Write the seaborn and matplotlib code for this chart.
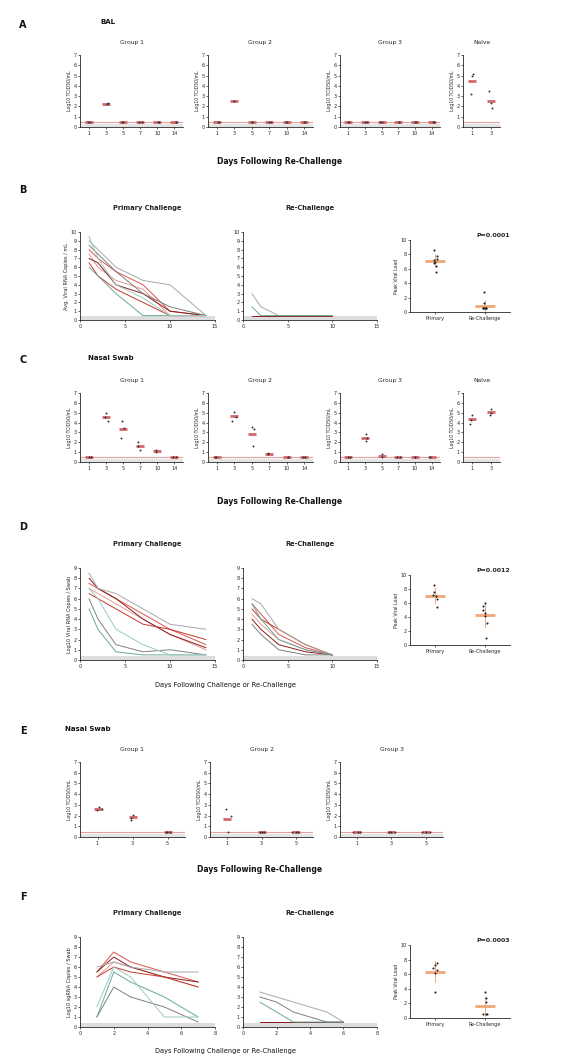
import numpy as np
import pandas as pd
import seaborn as sns
import matplotlib.pyplot as plt

sns.set_theme(style="ticks")
plt.rcParams['font.family'] = ['DejaVu Sans']
plt.rcParams['axes.linewidth'] = 0.6
plt.rcParams['xtick.major.width'] = 0.5
plt.rcParams['ytick.major.width'] = 0.5
plt.rcParams['xtick.major.size'] = 1.5
plt.rcParams['ytick.major.size'] = 1.5
plt.rcParams['xtick.major.pad'] = 1.5
plt.rcParams['ytick.major.pad'] = 1.0

# ---------------- data ----------------
LOD = 0.5
groups = ['Group 1', 'Group 2', 'Group 3']
days_cat = ['1', '3', '5', '7', '10', '14']
days_cat_e = ['1', '3', '5']
naive_cat = ['1', '3']

# A - BAL, re-challenge (day label -> values)
bal_g1 = {'1': [LOD, LOD], '3': [2.3, 2.2], '5': [LOD, LOD], '7': [LOD, LOD], '10': [LOD, LOD], '14': [LOD, LOD]}
bal_g2 = {'1': [LOD, LOD], '3': [2.5], '5': [LOD, LOD], '7': [LOD, LOD], '10': [LOD, LOD], '14': [LOD, LOD]}
bal_g3 = {'1': [LOD, LOD], '3': [LOD, LOD], '5': [LOD, LOD], '7': [LOD, LOD], '10': [LOD, LOD], '14': [LOD, LOD]}
bal_naive = {'1': [5.2, 5.0, 3.2], '3': [3.5, 2.3, 1.8]}

# C - nasal swab, re-challenge
ns_g1 = {'1': [LOD, LOD], '3': [5.0, 4.6, 4.2], '5': [4.2, 3.5, 2.4], '7': [2.0, 1.6, 1.2], '10': [1.2, 1.0], '14': [LOD, LOD]}
ns_g2 = {'1': [LOD, LOD], '3': [5.1, 4.6, 4.2], '5': [3.6, 3.3, 1.6], '7': [0.9, 0.8], '10': [LOD, LOD], '14': [LOD, LOD]}
ns_g3 = {'1': [LOD, LOD], '3': [2.8, 2.4, 2.1], '5': [0.8, LOD], '7': [LOD, LOD], '10': [LOD, LOD], '14': [LOD, LOD]}
ns_naive = {'1': [4.8, 4.3, 3.9], '3': [5.4, 5.0, 4.8]}

# E - nasal swab (second set)
ns2_g1 = {'1': [2.8, 2.6, 2.5], '3': [2.1, 1.8, 1.6], '5': [LOD, LOD, LOD]}
ns2_g2 = {'1': [2.6, 2.0, LOD], '3': [LOD, LOD, LOD], '5': [LOD, LOD, LOD]}
ns2_g3 = {'1': [LOD, LOD, LOD], '3': [LOD, LOD, LOD], '5': [LOD, LOD, LOD]}

animal_colors = {'R1': '#d9534f', 'R2': '#e89a9a', 'R3': '#8b1e1e', 'R4': '#c0392b',
                 'G1': '#a8a8a8', 'G2': '#7f7f7f', 'T1': '#6aa89a', 'T2': '#9cc9bf'}

# B - BAL viral RNA, primary / re-challenge
days_b = [1, 2, 4, 7, 10, 14]
b_primary = {
    'R1': [8.0, 7.0, 5.5, 4.0, 1.0, 0.5],
    'R2': [7.5, 6.0, 4.5, 3.5, 0.5, 0.5],
    'R3': [7.0, 6.5, 4.0, 3.0, 1.0, 0.5],
    'R4': [6.5, 5.0, 3.5, 2.0, 0.5, 0.5],
    'G1': [9.0, 8.0, 6.0, 4.5, 4.0, 0.5],
    'G2': [8.5, 7.5, 5.5, 3.0, 1.5, 0.5],
    'T1': [6.0, 5.0, 3.0, 0.5, 0.5, 0.5],
    'T2': [9.5, 7.0, 4.0, 2.5, 0.5, 0.5],
}
days_b_re = [1, 2, 4, 7, 10]
b_re = {
    'R1': [0.5, 0.5, 0.5, 0.5, 0.5],
    'R3': [0.5, 0.5, 0.5, 0.5, 0.5],
    'G1': [3.0, 1.5, 0.5, 0.5, 0.5],
    'T1': [1.5, 0.5, 0.5, 0.5, 0.5],
}
b_peak_primary = [8.6, 7.8, 7.2, 7.0, 6.8, 6.4, 5.6, 7.4]
b_peak_re = [2.8, 1.2, 0.6, 0.5, 0.5, 0.5, 0.5, 0.5]

# D - nasal swab viral RNA, primary / re-challenge
days_d = [1, 2, 4, 7, 10, 14]
d_primary = {
    'R1': [7.5, 7.0, 6.0, 4.5, 3.0, 1.5],
    'R2': [7.0, 6.5, 5.5, 4.0, 2.5, 1.0],
    'R3': [8.0, 7.0, 6.0, 4.0, 2.5, 1.2],
    'R4': [6.5, 6.0, 5.0, 3.5, 3.0, 2.0],
    'G1': [8.5, 7.0, 6.5, 5.0, 3.5, 3.0],
    'G2': [6.0, 4.0, 1.5, 0.8, 1.0, 0.5],
    'T1': [5.0, 3.0, 0.8, 0.5, 0.5, 0.5],
    'T2': [7.0, 6.0, 3.0, 1.5, 0.5, 0.5],
}
days_d_re = [1, 2, 4, 7, 10]
d_re = {
    'R1': [5.5, 4.5, 2.5, 1.2, 0.5],
    'R2': [4.5, 3.5, 2.0, 1.0, 0.5],
    'R3': [4.0, 3.0, 1.5, 0.8, 0.5],
    'R4': [5.0, 4.0, 3.0, 1.5, 0.5],
    'G1': [6.0, 5.5, 3.0, 1.5, 0.5],
    'G2': [3.5, 2.5, 1.0, 0.5, 0.5],
    'T1': [5.5, 4.0, 2.0, 1.0, 0.5],
}
d_peak_primary = [8.6, 7.6, 7.2, 7.0, 6.6, 5.4]
d_peak_re = [6.0, 5.6, 5.0, 4.6, 4.2, 3.2, 1.0]

# F - nasal swab sgRNA, primary / re-challenge
days_f = [1, 2, 3, 5, 7]
f_primary = {
    'R1': [5.5, 7.5, 6.5, 5.5, 4.5],
    'R2': [5.0, 6.5, 6.0, 5.0, 4.0],
    'R3': [5.5, 7.0, 6.0, 5.0, 4.5],
    'R4': [5.0, 6.0, 5.5, 5.0, 4.0],
    'G1': [6.0, 6.5, 6.0, 5.5, 5.5],
    'G2': [1.0, 4.0, 3.0, 2.0, 0.5],
    'T1': [1.0, 5.5, 4.5, 3.0, 1.0],
    'T2': [2.0, 6.0, 5.0, 1.0, 1.0],
}
days_f_re = [1, 2, 3, 5, 6]
f_re = {
    'R1': [0.5, 0.5, 0.5, 0.5, 0.5],
    'R3': [0.5, 0.5, 0.5, 0.5, 0.5],
    'G1': [3.5, 3.0, 2.5, 1.5, 0.5],
    'G2': [3.0, 2.5, 1.5, 0.5, 0.5],
    'T1': [2.5, 1.5, 0.5, 0.5, 0.5],
}
f_peak_primary = [7.6, 7.2, 6.8, 6.6, 6.2, 3.6]
f_peak_re = [3.6, 2.8, 2.2, 0.5, 0.5, 0.5]

W, H = 573, 1057
fig = plt.figure(figsize=(W / 100, H / 100), dpi=100)


def ax_px(l, t, r, b):
    return fig.add_axes([l / W, 1 - b / H, (r - l) / W, (b - t) / H])


def txt(x, y, s, size=4.5, weight='normal', ha='center'):
    fig.text(x / W, 1 - y / H, s, fontsize=size, weight=weight, ha=ha, va='center',
             color='#111111')


def style(ax):
    sns.despine(ax=ax)
    ax.tick_params(labelsize=3.5)


def cat_panel(ax, d, order, ymax, ylabel, title=None):
    df = pd.DataFrame([(k, v) for k in order for v in d[k]], columns=['day', 'value'])
    ax.axhspan(0, LOD * 0.6, color='#e4e4e4', zorder=0, lw=0)
    ax.axhline(LOD, color='#e3a0a0', lw=0.8, zorder=0)
    sns.stripplot(data=df, x='day', y='value', order=order, ax=ax, color='#333333',
                  size=1.4, jitter=0.12, zorder=3)
    sns.pointplot(data=df, x='day', y='value', order=order, ax=ax, estimator='mean',
                  errorbar=None, markers='_', markersize=6, linestyle='none',
                  color='#d46a6a', zorder=2)
    ax.set_ylim(0, ymax)
    ax.set_yticks(range(0, int(ymax) + 1))
    ax.set_xlabel('')
    ax.set_ylabel(ylabel, fontsize=3.3, labelpad=1)
    if title:
        ax.set_title(title, fontsize=4.3, pad=8)
    style(ax)


def line_panel(ax, d, days, xmax, xticks, ymax, ylabel=None, title=None):
    df = pd.DataFrame([(a, x, v) for a, vals in d.items() for x, v in zip(days, vals)],
                      columns=['animal', 'day', 'value'])
    ax.axhspan(0, LOD * 0.8, color='#dddddd', zorder=0, lw=0)
    sns.lineplot(data=df, x='day', y='value', hue='animal', palette=animal_colors,
                 ax=ax, legend=False, lw=0.7)
    ax.set_xlim(0, xmax)
    ax.set_xticks(xticks)
    ax.set_ylim(0, ymax)
    ax.set_yticks(range(0, int(ymax) + 1))
    ax.set_xlabel('')
    ax.set_ylabel(ylabel if ylabel else '', fontsize=3.6, labelpad=1)
    if title:
        ax.set_title(title, fontsize=4.8, pad=16, weight='bold', color='#222222')
    style(ax)


def peak_panel(ax, prim, re, ymax, ylabel, ptext):
    df = pd.DataFrame([('Primary', v) for v in prim] + [('Re-Challenge', v) for v in re],
                      columns=['phase', 'value'])
    sns.pointplot(data=df, x='phase', y='value', ax=ax, estimator='mean', errorbar='sd',
                  markers='_', markersize=14, linestyle='none', color='#f0a878',
                  err_kws={'linewidth': 0.7}, capsize=0)
    sns.stripplot(data=df, x='phase', y='value', ax=ax, color='#222222', size=1.5,
                  jitter=0.05, zorder=3)
    ax.set_ylim(0, ymax)
    ax.set_yticks(range(0, int(ymax) + 1, 2))
    ax.set_xlabel('')
    ax.set_ylabel(ylabel, fontsize=3.3, labelpad=1)
    ax.set_title(ptext, fontsize=4.5, pad=2, loc='right', weight='bold')
    style(ax)


# ---------------- A ----------------
txt(23, 25, 'A', 7, 'bold')
txt(100, 22, 'BAL', 5, 'bold', ha='left')
xs = [(80, 183), (208, 313), (340, 440)]
for (l, r), g, d in zip(xs, groups, [bal_g1, bal_g2, bal_g3]):
    cat_panel(ax_px(l, 55, r, 127), d, days_cat, 7, 'Log10 TCID50/mL', g)
cat_panel(ax_px(463, 55, 500, 127), bal_naive, naive_cat, 7, 'Log10 TCID50/mL', 'Naïve')
txt(280, 162, 'Days Following Re-Challenge', 5.5, 'bold')

# ---------------- B ----------------
txt(23, 190, 'B', 7, 'bold')
line_panel(ax_px(80, 232, 215, 320), b_primary, days_b, 15, [0, 5, 10, 15], 10,
           'Avg. Viral RNA Copies / mL', 'Primary Challenge')
line_panel(ax_px(243, 232, 377, 320), b_re, days_b_re, 15, [0, 5, 10, 15], 10,
           None, 'Re-Challenge')
peak_panel(ax_px(410, 240, 510, 312), b_peak_primary, b_peak_re, 10,
           'Peak Viral Load', 'P=0.0001')

# ---------------- C ----------------
txt(23, 360, 'C', 7, 'bold')
txt(88, 358, 'Nasal Swab', 5, 'bold', ha='left')
for (l, r), g, d in zip(xs, groups, [ns_g1, ns_g2, ns_g3]):
    cat_panel(ax_px(l, 393, r, 462), d, days_cat, 7, 'Log10 TCID50/mL', g)
cat_panel(ax_px(463, 393, 500, 462), ns_naive, naive_cat, 7, 'Log10 TCID50/mL', 'Naïve')
txt(280, 502, 'Days Following Re-Challenge', 5.5, 'bold')

# ---------------- D ----------------
txt(23, 527, 'D', 7, 'bold')
line_panel(ax_px(80, 568, 215, 660), d_primary, days_d, 15, [0, 5, 10, 15], 9,
           'Log10 Viral RNA Copies / Swab', 'Primary Challenge')
line_panel(ax_px(243, 568, 377, 660), d_re, days_d_re, 15, [0, 5, 10, 15], 9,
           None, 'Re-Challenge')
peak_panel(ax_px(410, 575, 510, 645), d_peak_primary, d_peak_re, 10,
           'Peak Viral Load', 'P=0.0012')
txt(225, 685, 'Days Following Challenge or Re-Challenge', 4.8)

# ---------------- E ----------------
txt(23, 731, 'E', 7, 'bold')
txt(65, 729, 'Nasal Swab', 5, 'bold', ha='left')
xs_e = [(80, 185), (210, 313), (340, 443)]
for (l, r), g, d in zip(xs_e, groups, [ns2_g1, ns2_g2, ns2_g3]):
    cat_panel(ax_px(l, 762, r, 837), d, days_cat_e, 7, 'Log10 TCID50/mL', g)
txt(260, 870, 'Days Following Re-Challenge', 5.5, 'bold')

# ---------------- F ----------------
txt(23, 897, 'F', 7, 'bold')
line_panel(ax_px(80, 937, 215, 1027), f_primary, days_f, 8, [0, 2, 4, 6, 8], 9,
           'Log10 sgRNA Copies / Swab', 'Primary Challenge')
line_panel(ax_px(243, 937, 377, 1027), f_re, days_f_re, 8, [0, 2, 4, 6, 8], 9,
           None, 'Re-Challenge')
peak_panel(ax_px(410, 945, 510, 1018), f_peak_primary, f_peak_re, 10,
           'Peak Viral Load', 'P=0.0003')
txt(225, 1051, 'Days Following Challenge or Re-Challenge', 4.8)

fig.savefig('out.png', dpi=100, facecolor='white')
